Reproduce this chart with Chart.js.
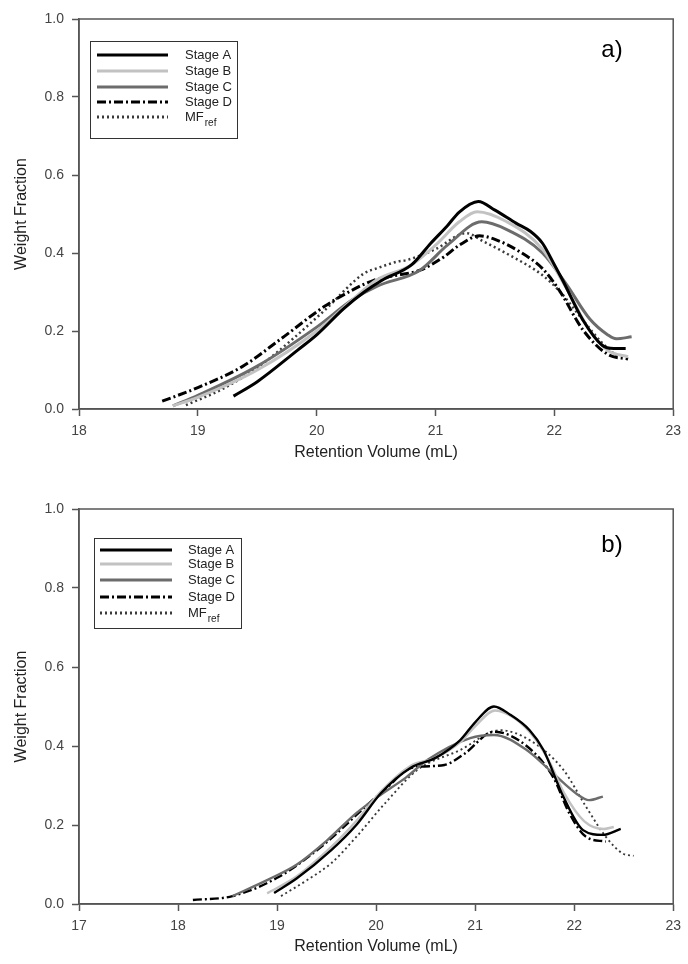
<!DOCTYPE html>
<html>
<head>
<meta charset="utf-8">
<script src="https://cdn.jsdelivr.net/npm/chart.js@4.4.0/dist/chart.umd.min.js"></script>
<style>
  body { margin: 0; background: #fff; }
  #wrap { position: relative; width: 688px; height: 964px; }
  canvas { display: block; }
</style>
</head>
<body>
<div id="wrap">
  <canvas id="chartA" width="688" height="480"></canvas>
  <canvas id="chartB" width="688" height="484"></canvas>
</div>
<script>
// legend labels ("_" marks subscript)
const seriesLabels = ["Stage A", "Stage B", "Stage C", "Stage D", "MF_ref"];

// x ticks for each panel
const topXTicks = [18, 19, 20, 21, 22, 23];
const bottomXTicks = [17, 18, 19, 20, 21, 22, 23];
const yTicks = [0.0, 0.2, 0.4, 0.6, 0.8, 1.0];

// panel a) [retention volume, weight fraction]
const topStageA = [[19.30,0.033],[19.5,0.07],[19.84,0.151],[20.0,0.19],[20.23,0.258],[20.4,0.30],[20.55,0.33],[20.8,0.37],[20.96,0.425],[21.1,0.47],[21.2,0.505],[21.36,0.532],[21.5,0.51],[21.68,0.476],[21.8,0.455],[21.9,0.425],[22.0,0.37],[22.07,0.33],[22.24,0.228],[22.4,0.164],[22.5,0.155],[22.6,0.155]];
const topStageB = [[18.79,0.008],[19.0,0.03],[19.5,0.10],[20.0,0.20],[20.3,0.28],[20.5,0.33],[20.8,0.37],[21.0,0.42],[21.2,0.48],[21.35,0.506],[21.6,0.48],[21.9,0.41],[22.1,0.31],[22.3,0.20],[22.45,0.15],[22.62,0.134]];
const topStageC = [[18.79,0.008],[19.0,0.035],[19.5,0.11],[20.0,0.21],[20.3,0.28],[20.51,0.315],[20.87,0.356],[21.1,0.42],[21.39,0.48],[21.6,0.46],[21.9,0.40],[22.1,0.32],[22.3,0.23],[22.45,0.19],[22.52,0.18],[22.65,0.185]];
const topStageD = [[18.70,0.02],[19.0,0.055],[19.37,0.108],[19.7,0.18],[20.07,0.264],[20.3,0.305],[20.48,0.33],[20.62,0.34],[20.87,0.356],[21.07,0.39],[21.2,0.42],[21.37,0.444],[21.5,0.435],[21.71,0.403],[21.9,0.36],[22.04,0.305],[22.24,0.203],[22.45,0.14],[22.62,0.128]];
const topMFref = [[18.9,0.01],[19.2,0.05],[19.51,0.108],[19.8,0.18],[20.07,0.254],[20.4,0.348],[20.51,0.361],[20.68,0.378],[20.76,0.382],[21.0,0.41],[21.26,0.451],[21.4,0.43],[21.62,0.395],[21.9,0.343],[22.05,0.30],[22.24,0.228],[22.4,0.17],[22.53,0.134]];

// panel b)
const botStageA = [[18.97,0.028],[19.2,0.065],[19.55,0.137],[19.8,0.20],[20.05,0.281],[20.35,0.345],[20.6,0.37],[20.85,0.415],[21.0,0.46],[21.19,0.50],[21.35,0.48],[21.55,0.44],[21.69,0.39],[21.89,0.272],[22.09,0.187],[22.29,0.175],[22.47,0.19]];
const botStageB = [[18.90,0.027],[19.2,0.07],[19.55,0.145],[19.8,0.21],[20.05,0.285],[20.35,0.35],[20.6,0.37],[20.85,0.41],[21.0,0.45],[21.2,0.49],[21.4,0.47],[21.6,0.42],[21.75,0.36],[21.9,0.28],[22.1,0.21],[22.3,0.19],[22.4,0.195]];
const botStageC = [[18.55,0.02],[18.92,0.063],[19.2,0.10],[19.5,0.16],[19.8,0.23],[20.02,0.272],[20.3,0.32],[20.52,0.365],[20.95,0.42],[21.19,0.428],[21.52,0.39],[21.79,0.33],[22.02,0.28],[22.15,0.263],[22.29,0.272]];
const botStageD = [[18.15,0.01],[18.55,0.02],[19.02,0.069],[19.49,0.154],[19.89,0.246],[20.12,0.297],[20.35,0.344],[20.69,0.352],[20.89,0.38],[21.19,0.436],[21.52,0.40],[21.79,0.32],[21.95,0.23],[22.12,0.17],[22.32,0.158]];
const botMFref = [[19.04,0.02],[19.3,0.06],[19.55,0.104],[19.8,0.17],[20.09,0.255],[20.42,0.34],[20.85,0.39],[21.25,0.44],[21.55,0.415],[21.89,0.34],[22.12,0.246],[22.32,0.17],[22.49,0.128],[22.6,0.122]];

const toPts = arr => arr.map(p => ({ x: p[0], y: p[1] }));

const styles = [
    { color: "#000000", dash: [] },
    { color: "#c2c2c2", dash: [] },
    { color: "#6c6c6c", dash: [] },
    { color: "#000000", dash: [9, 3, 2, 3] },
    { color: "#3a3a3a", dash: [2, 3] }
];

function makeDatasets(seriesList, width) {
    return seriesList.map((s, i) => ({
        label: seriesLabels[i],
        data: toPts(s),
        borderColor: styles[i].color,
        borderDash: styles[i].dash,
        borderWidth: i === 4 ? width - 0.5 : width,
        pointRadius: 0,
        fill: false,
        cubicInterpolationMode: "monotone"
    }));
}

// frame, panel letter and custom legend
const framePlugin = {
    id: "frame",
    afterDraw(chart, args, opts) {
        const { ctx, chartArea: a } = chart;
        ctx.save();
        ctx.strokeStyle = "#555";
        ctx.lineWidth = 1.5;
        ctx.strokeRect(a.left, a.top, a.right - a.left, a.bottom - a.top);

        ctx.fillStyle = "#000";
        ctx.font = "24px 'Liberation Sans', Arial, sans-serif";
        ctx.textAlign = "center";
        ctx.textBaseline = "middle";
        ctx.fillText(opts.letter, opts.letterX, opts.letterY);

        const lg = opts.legend;
        ctx.strokeStyle = "#333";
        ctx.lineWidth = 1;
        ctx.setLineDash([]);
        ctx.strokeRect(lg.x + 0.5, lg.y + 0.5, lg.w, lg.h);
        chart.data.datasets.forEach((ds, i) => {
            const y = lg.rows[i];
            ctx.save();
            ctx.strokeStyle = ds.borderColor;
            ctx.lineWidth = 3;
            ctx.setLineDash(ds.borderDash);
            ctx.beginPath();
            ctx.moveTo(lg.lineX0, y);
            ctx.lineTo(lg.lineX1, y);
            ctx.stroke();
            ctx.restore();
            const parts = ds.label.split("_");
            ctx.fillStyle = "#222";
            ctx.textAlign = "left";
            ctx.textBaseline = "middle";
            ctx.font = "13px 'Liberation Sans', Arial, sans-serif";
            ctx.fillText(parts[0], lg.textX, y);
            if (parts[1]) {
                const w = ctx.measureText(parts[0]).width;
                ctx.font = "10px 'Liberation Sans', Arial, sans-serif";
                ctx.fillText(parts[1], lg.textX + w + 1, y + 6);
            }
        });
        ctx.restore();
    }
};

function makeOptions(xMin, xTicks, cfg) {
    return {
        responsive: false,
        animation: false,
        devicePixelRatio: 1,
        layout: { padding: { top: cfg.padTop, right: 10, left: 0, bottom: 0 } },
        plugins: {
            legend: { display: false },
            tooltip: { enabled: false },
            frame: cfg.frame
        },
        scales: {
            x: {
                type: "linear",
                min: xMin,
                max: 23,
                afterBuildTicks: scale => { scale.ticks = xTicks.map(v => ({ value: v })); },
                afterFit: scale => { scale.height = cfg.xHeight; },
                border: { display: true, color: "#555", width: 1.5 },
                grid: { drawOnChartArea: false, drawTicks: true, tickLength: 7, tickColor: "#555", tickWidth: 1.5 },
                ticks: {
                    color: "#444",
                    padding: 7,
                    font: { family: "'Liberation Sans', Arial, sans-serif", size: 14 },
                    callback: v => String(v)
                },
                title: {
                    display: true,
                    text: "Retention Volume (mL)",
                    color: "#222",
                    font: { family: "'Liberation Sans', Arial, sans-serif", size: 16 },
                    padding: { top: 4, bottom: cfg.xTitlePad }
                }
            },
            y: {
                type: "linear",
                min: 0,
                max: 1,
                afterBuildTicks: scale => { scale.ticks = yTicks.map(v => ({ value: v })); },
                afterFit: scale => { scale.width = 79; },
                border: { display: true, color: "#555", width: 1.5 },
                grid: { drawOnChartArea: false, drawTicks: true, tickLength: 7, tickColor: "#555", tickWidth: 1.5 },
                ticks: {
                    color: "#444",
                    padding: 8,
                    font: { family: "'Liberation Sans', Arial, sans-serif", size: 14 },
                    callback: v => v.toFixed(1)
                },
                title: {
                    display: true,
                    text: "Weight Fraction",
                    color: "#222",
                    font: { family: "'Liberation Sans', Arial, sans-serif", size: 16 },
                    padding: { top: 12, bottom: 4 }
                }
            }
        }
    };
}

new Chart(document.getElementById("chartA"), {
    type: "line",
    data: { datasets: makeDatasets([topStageA, topStageB, topStageC, topStageD, topMFref], 3) },
    options: makeOptions(18, topXTicks, {
        padTop: 19, xHeight: 71, xTitlePad: 18,
        frame: {
            letter: "a)", letterX: 612, letterY: 50,
            legend: { x: 90, y: 41, w: 147, h: 97, lineX0: 97, lineX1: 168, textX: 185, rows: [55, 71, 87, 102, 117] }
        }
    }),
    plugins: [framePlugin]
});

new Chart(document.getElementById("chartB"), {
    type: "line",
    data: { datasets: makeDatasets([botStageA, botStageB, botStageC, botStageD, botMFref], 2.4) },
    options: makeOptions(17, bottomXTicks, {
        padTop: 29, xHeight: 60, xTitlePad: 8,
        frame: {
            letter: "b)", letterX: 612, letterY: 65,
            legend: { x: 94, y: 58, w: 147, h: 90, lineX0: 100, lineX1: 172, textX: 188, rows: [70, 84, 100, 117, 133] }
        }
    }),
    plugins: [framePlugin]
});
</script>
</body>
</html>
